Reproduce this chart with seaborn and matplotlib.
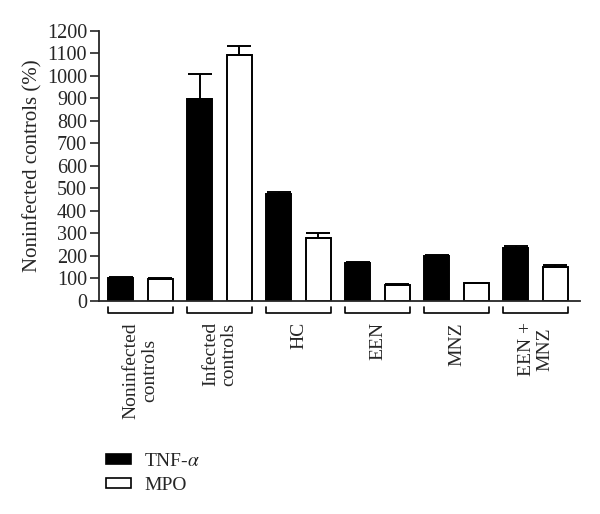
import seaborn as sns
import matplotlib.pyplot as plt
import matplotlib.transforms as mtransforms
from matplotlib.patches import Patch
import pandas as pd

# Data (percent of noninfected controls)
groups = ["Noninfected\ncontrols", "Infected\ncontrols", "HC", "EEN", "MNZ", "EEN +\nMNZ"]
tnf = [102, 898, 475, 168, 198, 236]
tnf_err = [4, 110, 11, 6, 8, 8]
mpo = [98, 1095, 281, 71, 78, 151]
mpo_err = [3, 40, 20, 6, 4, 11]
markers = ["TNF-$\\alpha$", "MPO"]

df = pd.DataFrame({
    "group": groups * 2,
    "marker": [markers[0]] * len(groups) + [markers[1]] * len(groups),
    "value": tnf + mpo,
})

sns.set_style("white")
plt.rcParams["font.family"] = ["Liberation Serif", "DejaVu Serif"]
plt.rcParams["mathtext.fontset"] = "stix"

fig = plt.figure(figsize=(6, 5.14), dpi=100)
ax = fig.add_axes([0.165, 0.4144, 0.802, 0.5253])

sns.barplot(data=df, x="group", y="value", hue="marker", order=groups,
            hue_order=markers, palette=["black", "white"], edgecolor="black",
            linewidth=1.4, width=1.0, gap=0.37, errorbar=None, legend=False, ax=ax)

# upward-only error bars
for cont, err in zip(ax.containers, [tnf_err, mpo_err]):
    xs = [p.get_x() + p.get_width() / 2 for p in cont]
    ys = [p.get_height() for p in cont]
    ax.errorbar(xs, ys, yerr=[[0] * len(err), err], fmt="none", ecolor="black",
                elinewidth=1.4, capsize=8.6, capthick=1.4)

ax.set_xlim(-0.525, 5.563)
ax.set_ylim(0, 1200)
ax.set_yticks(range(0, 1201, 100))
ax.tick_params(axis="y", direction="out", length=6.5, width=1.2, pad=2,
               labelsize=14.5, left=True)
ax.tick_params(axis="x", bottom=False, labelbottom=False)
ax.set_xlabel("")
ax.set_ylabel("Noninfected controls (%)", fontsize=15, labelpad=3)
sns.despine(ax=ax)
for s in ["left", "bottom"]:
    ax.spines[s].set_linewidth(1.3)

# brackets and rotated group labels under the axis
trans = mtransforms.blended_transform_factory(ax.transData, ax.transAxes)
for i, g in enumerate(groups):
    x0, x1 = i - 0.41, i + 0.41
    ax.plot([x0, x0, x1, x1], [-0.022, -0.044, -0.044, -0.022], color="black",
            lw=1.2, transform=trans, clip_on=False)
    ax.text(i, -0.078, g, rotation=90, ha="center", va="top",
            multialignment="center", fontsize=14, transform=trans,
            linespacing=1.1)

handles = [Patch(facecolor="black", edgecolor="black", linewidth=1.2),
           Patch(facecolor="white", edgecolor="black", linewidth=1.2)]
fig.legend(handles, markers, loc="upper left", bbox_to_anchor=(0.148, 0.152),
           frameon=False, fontsize=14, handlelength=1.25, handleheight=0.42,
           handletextpad=0.7, labelspacing=0.35)

fig.savefig("out.png", dpi=100)
